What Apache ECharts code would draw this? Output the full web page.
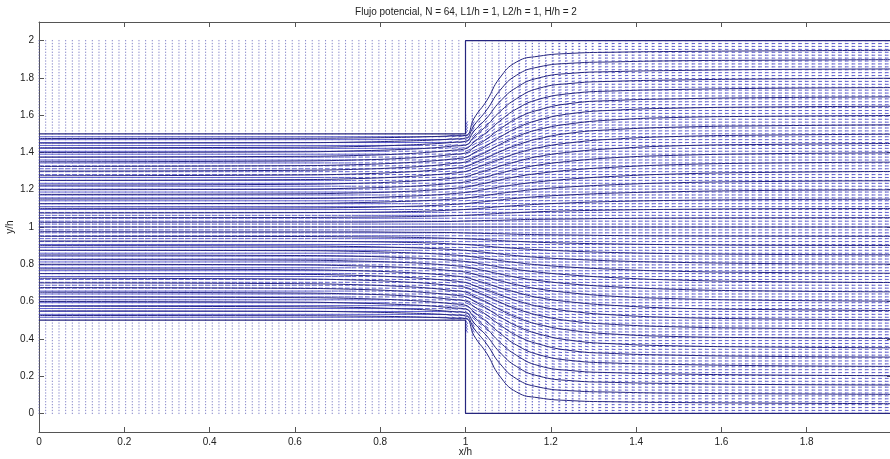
<!DOCTYPE html>
<html>
<head>
<meta charset="utf-8">
<script src="https://cdn.jsdelivr.net/npm/echarts@6.0.0/dist/echarts.min.js"></script>
<style>
  html, body { margin: 0; padding: 0; background: #ffffff; }
  #chart { width: 890px; height: 459px; }
</style>
</head>
<body>
<div id="chart"></div>
<script>
// Potential flow through a sudden expansion: inlet channel 0.5 < y/h < 1.5 for x/h < 1,
// outlet channel 0 < y/h < 2 for x/h > 1. Mesh of N cells per h.
const N = 64;

const titleText = 'Flujo potencial, N = 64, L1/h = 1, L2/h = 1, H/h = 2';
const xTicks = [0, 0.2, 0.4, 0.6, 0.8, 1, 1.2, 1.4, 1.6, 1.8, 2];
const yTicks = [0, 0.2, 0.4, 0.6, 0.8, 1, 1.2, 1.4, 1.6, 1.8, 2];

// Channel walls
const wallTopX = [0, 1, 1, 2];
const wallTopY = [1.5, 1.5, 2, 2];
const wallBottomX = [0, 1, 1, 2];
const wallBottomY = [0.5, 0.5, 0, 0];

// Streamlines: y/h at each x/h station
const streamX = [0, 0.6, 0.75, 0.85, 0.92, 0.97, 1.0, 1.02, 1.05, 1.08, 1.12, 1.17, 1.25, 1.35, 1.5, 1.7, 2.0];

const streamCenter = [1, 1, 1, 1, 1, 1, 1, 1, 1, 1, 1, 1, 1, 1, 1, 1, 1];

const streamUpper = [
  [1.025, 1.026, 1.026, 1.028, 1.029, 1.030, 1.032, 1.033, 1.035, 1.036, 1.039, 1.041, 1.043, 1.046, 1.048, 1.049, 1.050],
  [1.050, 1.051, 1.053, 1.055, 1.058, 1.061, 1.063, 1.065, 1.069, 1.073, 1.077, 1.082, 1.087, 1.091, 1.095, 1.098, 1.099],
  [1.075, 1.077, 1.079, 1.082, 1.086, 1.091, 1.094, 1.097, 1.103, 1.109, 1.115, 1.122, 1.130, 1.137, 1.143, 1.147, 1.149],
  [1.100, 1.102, 1.105, 1.110, 1.115, 1.121, 1.125, 1.130, 1.137, 1.145, 1.154, 1.163, 1.173, 1.182, 1.190, 1.196, 1.199],
  [1.125, 1.127, 1.131, 1.137, 1.143, 1.150, 1.155, 1.161, 1.170, 1.180, 1.191, 1.203, 1.216, 1.227, 1.238, 1.244, 1.248],
  [1.150, 1.153, 1.157, 1.164, 1.171, 1.179, 1.185, 1.191, 1.203, 1.215, 1.228, 1.242, 1.258, 1.272, 1.285, 1.293, 1.298],
  [1.175, 1.178, 1.183, 1.190, 1.198, 1.207, 1.214, 1.223, 1.237, 1.252, 1.270, 1.287, 1.306, 1.321, 1.335, 1.343, 1.348],
  [1.200, 1.203, 1.209, 1.216, 1.225, 1.235, 1.242, 1.253, 1.270, 1.288, 1.310, 1.332, 1.354, 1.372, 1.385, 1.393, 1.398],
  [1.225, 1.229, 1.235, 1.243, 1.252, 1.262, 1.270, 1.283, 1.304, 1.326, 1.351, 1.378, 1.403, 1.421, 1.436, 1.443, 1.448],
  [1.250, 1.254, 1.260, 1.269, 1.279, 1.289, 1.298, 1.314, 1.338, 1.364, 1.395, 1.425, 1.453, 1.472, 1.486, 1.493, 1.498],
  [1.275, 1.279, 1.285, 1.294, 1.304, 1.315, 1.324, 1.342, 1.371, 1.403, 1.439, 1.473, 1.505, 1.523, 1.536, 1.543, 1.548],
  [1.300, 1.304, 1.310, 1.319, 1.329, 1.341, 1.349, 1.372, 1.404, 1.442, 1.485, 1.522, 1.555, 1.575, 1.588, 1.594, 1.598],
  [1.325, 1.329, 1.335, 1.344, 1.354, 1.365, 1.374, 1.398, 1.437, 1.481, 1.531, 1.573, 1.609, 1.627, 1.638, 1.644, 1.648],
  [1.350, 1.354, 1.360, 1.368, 1.378, 1.389, 1.397, 1.427, 1.473, 1.524, 1.582, 1.627, 1.664, 1.679, 1.688, 1.694, 1.698],
  [1.375, 1.379, 1.384, 1.392, 1.402, 1.412, 1.420, 1.456, 1.509, 1.568, 1.634, 1.684, 1.717, 1.730, 1.738, 1.744, 1.748],
  [1.400, 1.403, 1.409, 1.416, 1.424, 1.434, 1.440, 1.484, 1.545, 1.617, 1.689, 1.743, 1.771, 1.782, 1.789, 1.794, 1.798],
  [1.425, 1.428, 1.432, 1.439, 1.446, 1.454, 1.460, 1.515, 1.585, 1.671, 1.749, 1.799, 1.825, 1.834, 1.840, 1.845, 1.848],
  [1.450, 1.452, 1.456, 1.461, 1.466, 1.472, 1.477, 1.545, 1.629, 1.731, 1.815, 1.858, 1.879, 1.886, 1.892, 1.895, 1.898],
  [1.475, 1.476, 1.478, 1.481, 1.485, 1.489, 1.491, 1.583, 1.679, 1.799, 1.886, 1.916, 1.932, 1.938, 1.942, 1.945, 1.948]
];

const streamLower = [
  [0.975, 0.974, 0.974, 0.972, 0.971, 0.970, 0.968, 0.967, 0.965, 0.964, 0.961, 0.959, 0.957, 0.954, 0.952, 0.951, 0.950],
  [0.950, 0.949, 0.947, 0.945, 0.942, 0.939, 0.937, 0.935, 0.931, 0.927, 0.923, 0.918, 0.913, 0.909, 0.905, 0.902, 0.901],
  [0.925, 0.923, 0.921, 0.918, 0.914, 0.909, 0.906, 0.903, 0.897, 0.891, 0.885, 0.878, 0.870, 0.863, 0.857, 0.853, 0.851],
  [0.900, 0.898, 0.895, 0.890, 0.885, 0.879, 0.875, 0.870, 0.863, 0.855, 0.846, 0.837, 0.827, 0.818, 0.810, 0.804, 0.801],
  [0.875, 0.873, 0.869, 0.863, 0.857, 0.850, 0.845, 0.839, 0.830, 0.820, 0.809, 0.797, 0.784, 0.773, 0.762, 0.756, 0.752],
  [0.850, 0.847, 0.843, 0.836, 0.829, 0.821, 0.815, 0.809, 0.797, 0.785, 0.772, 0.758, 0.742, 0.728, 0.715, 0.707, 0.702],
  [0.825, 0.822, 0.817, 0.810, 0.802, 0.793, 0.786, 0.777, 0.763, 0.748, 0.730, 0.713, 0.694, 0.679, 0.665, 0.657, 0.652],
  [0.800, 0.797, 0.791, 0.784, 0.775, 0.765, 0.758, 0.747, 0.730, 0.712, 0.690, 0.668, 0.646, 0.628, 0.615, 0.607, 0.602],
  [0.775, 0.771, 0.765, 0.757, 0.748, 0.738, 0.730, 0.717, 0.696, 0.674, 0.649, 0.622, 0.597, 0.579, 0.564, 0.557, 0.552],
  [0.750, 0.746, 0.740, 0.731, 0.721, 0.711, 0.702, 0.686, 0.662, 0.636, 0.605, 0.575, 0.547, 0.528, 0.514, 0.507, 0.502],
  [0.725, 0.721, 0.715, 0.706, 0.696, 0.685, 0.676, 0.658, 0.629, 0.597, 0.561, 0.527, 0.495, 0.477, 0.464, 0.457, 0.452],
  [0.700, 0.696, 0.690, 0.681, 0.671, 0.659, 0.651, 0.628, 0.596, 0.558, 0.515, 0.478, 0.445, 0.425, 0.412, 0.406, 0.402],
  [0.675, 0.671, 0.665, 0.656, 0.646, 0.635, 0.626, 0.602, 0.563, 0.519, 0.469, 0.427, 0.391, 0.373, 0.362, 0.356, 0.352],
  [0.650, 0.646, 0.640, 0.632, 0.622, 0.611, 0.603, 0.573, 0.527, 0.476, 0.418, 0.373, 0.336, 0.321, 0.312, 0.306, 0.302],
  [0.625, 0.621, 0.616, 0.608, 0.598, 0.588, 0.580, 0.544, 0.491, 0.432, 0.366, 0.316, 0.283, 0.270, 0.262, 0.256, 0.252],
  [0.600, 0.597, 0.591, 0.584, 0.576, 0.566, 0.560, 0.516, 0.455, 0.383, 0.311, 0.257, 0.229, 0.218, 0.211, 0.206, 0.202],
  [0.575, 0.572, 0.568, 0.561, 0.554, 0.546, 0.540, 0.485, 0.415, 0.329, 0.251, 0.201, 0.175, 0.166, 0.160, 0.155, 0.152],
  [0.550, 0.548, 0.544, 0.539, 0.534, 0.528, 0.523, 0.455, 0.371, 0.269, 0.185, 0.142, 0.121, 0.114, 0.108, 0.105, 0.102],
  [0.525, 0.524, 0.522, 0.519, 0.515, 0.511, 0.509, 0.417, 0.321, 0.201, 0.114, 0.084, 0.068, 0.062, 0.058, 0.055, 0.052]
];

// Velocity field for the arrows, tabulated in bands of x/h and of distance |y/h - 1| from the axis.
const quiverXEdges = [0, 0.3, 0.5, 0.65, 0.72, 0.8, 0.88, 0.95, 1.0, 1.03, 1.07, 1.12, 1.2, 1.3, 1.45, 1.65, 2.01];
const quiverSEdges = [0, 0.03, 0.08, 0.13, 0.2, 0.27, 0.33, 0.38, 0.42, 0.45, 0.47, 0.5, 0.55, 0.6, 0.7, 0.8, 0.9, 1.01];

// speed |u|/U
const quiverSpeed = [
  [0.72, 0.75, 1.00, 1.00, 1.00, 0.72, 1.00, 1.00, 1.00, 1.00, 1.00, 0, 0, 0, 0, 0, 0],
  [0.72, 0.75, 1.00, 1.00, 1.00, 0.72, 1.00, 1.00, 1.00, 1.00, 1.00, 0, 0, 0, 0, 0, 0],
  [0.72, 0.75, 1.00, 1.00, 1.00, 0.70, 1.00, 1.00, 1.00, 1.00, 1.00, 0, 0, 0, 0, 0, 0],
  [0.75, 0.80, 1.00, 1.00, 0.85, 0.62, 0.85, 1.00, 1.00, 1.00, 1.00, 0, 0, 0, 0, 0, 0],
  [0.85, 0.90, 0.97, 0.85, 0.62, 0.60, 0.62, 1.02, 1.03, 1.03, 1.04, 0, 0, 0, 0, 0, 0],
  [0.88, 0.90, 0.85, 0.62, 0.60, 0.60, 0.60, 0.62, 1.05, 1.06, 1.08, 0, 0, 0, 0, 0, 0],
  [0.86, 0.80, 0.62, 0.60, 0.60, 0.60, 0.60, 0.60, 0.65, 1.12, 1.16, 0, 0, 0, 0, 0, 0],
  [0.80, 0.62, 0.62, 0.64, 0.66, 0.70, 0.74, 0.80, 0.90, 1.00, 1.50, 0, 0, 0, 0, 0, 0],
  [0.77, 0.77, 0.78, 0.80, 0.86, 0.93, 1.00, 1.10, 1.20, 1.35, 1.50, 1.30, 0.50, 0.20, 0.08, 0.03, 0.01],
  [0.74, 0.74, 0.75, 0.76, 0.80, 0.85, 0.90, 0.94, 0.98, 1.00, 1.00, 0.90, 0.60, 0.32, 0.15, 0.07, 0.03],
  [0.71, 0.71, 0.72, 0.72, 0.75, 0.78, 0.80, 0.81, 0.82, 0.81, 0.80, 0.74, 0.62, 0.44, 0.26, 0.14, 0.07],
  [0.67, 0.67, 0.68, 0.68, 0.69, 0.69, 0.70, 0.70, 0.69, 0.68, 0.67, 0.63, 0.57, 0.48, 0.35, 0.22, 0.13],
  [0.63, 0.63, 0.63, 0.63, 0.63, 0.62, 0.62, 0.615, 0.61, 0.60, 0.60, 0.58, 0.55, 0.50, 0.42, 0.32, 0.23],
  [0.585, 0.585, 0.58, 0.58, 0.575, 0.57, 0.57, 0.565, 0.56, 0.555, 0.555, 0.545, 0.535, 0.51, 0.47, 0.42, 0.38],
  [0.55, 0.55, 0.55, 0.55, 0.545, 0.54, 0.54, 0.535, 0.535, 0.53, 0.53, 0.525, 0.52, 0.51, 0.49, 0.47, 0.45],
  [0.52, 0.52, 0.52, 0.52, 0.52, 0.515, 0.515, 0.51, 0.51, 0.51, 0.51, 0.51, 0.505, 0.50, 0.495, 0.49, 0.48]
];

// flow angle in degrees, measured away from the axis
const quiverAngle = [
  [0, 0, 0, 0, 0, 0, 0, 0, 0, 0, 0, 0, 0, 0, 0, 0, 0],
  [0, 0, 0, 0, 0, 0, 0, 0, 0, 0, 0, 0, 0, 0, 0, 0, 0],
  [0, 0, 0, 0, 0, 0, 0, 0, 0, 0, 0, 0, 0, 0, 0, 0, 0],
  [0, 0, 0, 0, 1, 1, 1, 0, 0, 0, 0, 0, 0, 0, 0, 0, 0],
  [0, 0, 1, 1, 2, 2, 2, 2, 1, 1, 0, 0, 0, 0, 0, 0, 0],
  [0, 1, 1, 2, 3, 4, 4, 3, 3, 2, 1, 0, 0, 0, 0, 0, 0],
  [0, 1, 2, 4, 5, 6, 6, 6, 5, 4, 3, 0, 0, 0, 0, 0, 0],
  [1, 2, 5, 8, 11, 13, 15, 17, 18, 20, 25, 0, 0, 0, 0, 0, 0],
  [1, 4, 8, 13, 20, 28, 36, 44, 52, 58, 65, 75, 85, 88, 90, 90, 90],
  [1, 4, 8, 12, 18, 25, 31, 38, 45, 50, 52, 60, 68, 75, 80, 82, 80],
  [1, 3, 6, 10, 15, 20, 25, 29, 33, 36, 37, 42, 46, 50, 52, 48, 40],
  [1, 2, 4, 7, 11, 14, 17, 19, 22, 23, 24, 26, 28, 30, 30, 26, 18],
  [0, 1, 3, 4, 6, 8, 9, 10, 12, 12, 13, 14, 15, 15, 14, 11, 6],
  [0, 1, 1, 2, 3, 3, 4, 4, 5, 5, 5, 5, 6, 6, 5, 4, 2],
  [0, 0, 1, 1, 1, 1, 1, 2, 2, 2, 2, 2, 2, 2, 1, 1, 0],
  [0, 0, 0, 0, 0, 0, 0, 0, 0, 0, 0, 0, 0, 0, 0, 0, 0]
];

const lineColor = '#26267e';
const arrowColor = '#3a3ac4';
const dotColor = '#6060b8';
const axisColor = '#555555';
const textColor = '#222222';
const fontFamily = '"Liberation Sans", Arial, Helvetica, sans-serif';

function bandIndex(edges, v) {
  for (let i = 0; i < edges.length - 1; i++) {
    if (v >= edges[i] && v < edges[i + 1]) return i;
  }
  return edges.length - 2;
}

// Mesh nodes
const meshPoints = [];
for (let i = 0; i <= 2 * N; i++) {
  for (let j = 0; j <= 2 * N; j++) {
    meshPoints.push([i / N, j / N]);
  }
}

// Arrow at each mesh node: [x, y, dx, dy], length scaled by one cell per unit speed
const arrowData = [];
meshPoints.forEach(function (p) {
  const bx = bandIndex(quiverXEdges, p[0]);
  const bs = bandIndex(quiverSEdges, Math.abs(p[1] - 1));
  const sp = quiverSpeed[bx][bs];
  if (!sp) return;
  const ang = quiverAngle[bx][bs] * Math.PI / 180 * Math.sign(p[1] - 1);
  arrowData.push([p[0], p[1], sp * Math.cos(ang) / N, sp * Math.sin(ang) / N]);
});

function toPairs(xs, ys) {
  return xs.map(function (x, i) { return [x, ys[i]]; });
}

const series = [];

series.push({
  type: 'scatter',
  name: 'mesh',
  data: meshPoints,
  symbol: 'rect',
  symbolSize: [1, 1.3],
  itemStyle: { color: dotColor, opacity: 0.75 },
  large: true,
  largeThreshold: 1000,
  progressive: 0,
  silent: true,
  z: 1
});

series.push({
  type: 'custom',
  name: 'velocity',
  data: arrowData,
  progressive: 0,
  silent: true,
  clip: true,
  z: 2,
  encode: { x: 0, y: 1 },
  renderItem: function (params, api) {
    const x = api.value(0), y = api.value(1);
    const p0 = api.coord([x, y]);
    const p1 = api.coord([x + api.value(2), y + api.value(3)]);
    return {
      type: 'line',
      shape: { x1: p0[0], y1: p0[1], x2: p1[0], y2: p1[1] },
      style: { stroke: arrowColor, lineWidth: 1, opacity: 0.8 }
    };
  }
});

const streamSets = [streamCenter].concat(streamUpper, streamLower);
streamSets.forEach(function (ys, idx) {
  series.push({
    type: 'line',
    name: 'psi' + idx,
    data: toPairs(streamX, ys),
    smooth: 0.5,
    showSymbol: false,
    symbol: 'none',
    silent: true,
    clip: true,
    lineStyle: { color: lineColor, width: 1 },
    z: 3
  });
});

[[wallTopX, wallTopY], [wallBottomX, wallBottomY]].forEach(function (w) {
  series.push({
    type: 'line',
    data: toPairs(w[0], w[1]),
    showSymbol: false,
    symbol: 'none',
    silent: true,
    clip: false,
    lineStyle: { color: lineColor, width: 1.2 },
    z: 4
  });
});

const tickStyle = { color: axisColor, width: 1 };

const option = {
  animation: false,
  backgroundColor: '#ffffff',
  grid: { left: 39, top: 22, width: 853, height: 410, containLabel: false, outerBoundsMode: 'none' },
  xAxis: [
    {
      type: 'value', min: 0, max: 2, position: 'bottom',
      name: 'x/h', nameLocation: 'middle', nameGap: 15, nameMoveOverlap: false,
      nameTextStyle: { color: textColor, fontSize: 10, fontFamily: fontFamily },
      axisLine: { show: true, onZero: false, lineStyle: { color: axisColor, width: 1 } },
      axisTick: { show: true, inside: true, length: 5, customValues: xTicks, lineStyle: tickStyle },
      axisLabel: { show: true, customValues: xTicks.slice(0, 10), margin: 5, color: textColor, fontSize: 10, fontFamily: fontFamily },
      splitLine: { show: false }
    },
    {
      type: 'value', min: 0, max: 2, position: 'top',
      axisLine: { show: true, onZero: false, lineStyle: { color: axisColor, width: 1 } },
      axisTick: { show: true, inside: true, length: 5, customValues: xTicks, lineStyle: tickStyle },
      axisLabel: { show: false },
      splitLine: { show: false }
    }
  ],
  yAxis: [
    {
      type: 'value', min: -0.1, max: 2.1, position: 'left',
      name: 'y/h', nameLocation: 'middle', nameGap: 24, nameRotate: 90, nameMoveOverlap: false,
      nameTextStyle: { color: textColor, fontSize: 10, fontFamily: fontFamily },
      axisLine: { show: true, onZero: false, lineStyle: { color: axisColor, width: 1 } },
      axisTick: { show: true, inside: true, length: 5, customValues: yTicks, lineStyle: tickStyle },
      axisLabel: { show: true, customValues: yTicks, margin: 5, color: textColor, fontSize: 10, fontFamily: fontFamily },
      splitLine: { show: false }
    },
    {
      type: 'value', min: -0.1, max: 2.1, position: 'right',
      axisLine: { show: true, onZero: false, lineStyle: { color: axisColor, width: 1 } },
      axisTick: { show: true, inside: true, length: 5, customValues: yTicks, lineStyle: tickStyle },
      axisLabel: { show: false },
      splitLine: { show: false }
    }
  ],
  graphic: [
    {
      type: 'text', x: 466, y: 12, silent: true,
      style: { text: titleText, fill: textColor, font: '10px ' + fontFamily, textAlign: 'center', textVerticalAlign: 'middle' }
    }
  ],
  series: series
};

const chart = echarts.init(document.getElementById('chart'), null, { renderer: 'canvas' });
chart.setOption(option);
</script>
</body>
</html>
